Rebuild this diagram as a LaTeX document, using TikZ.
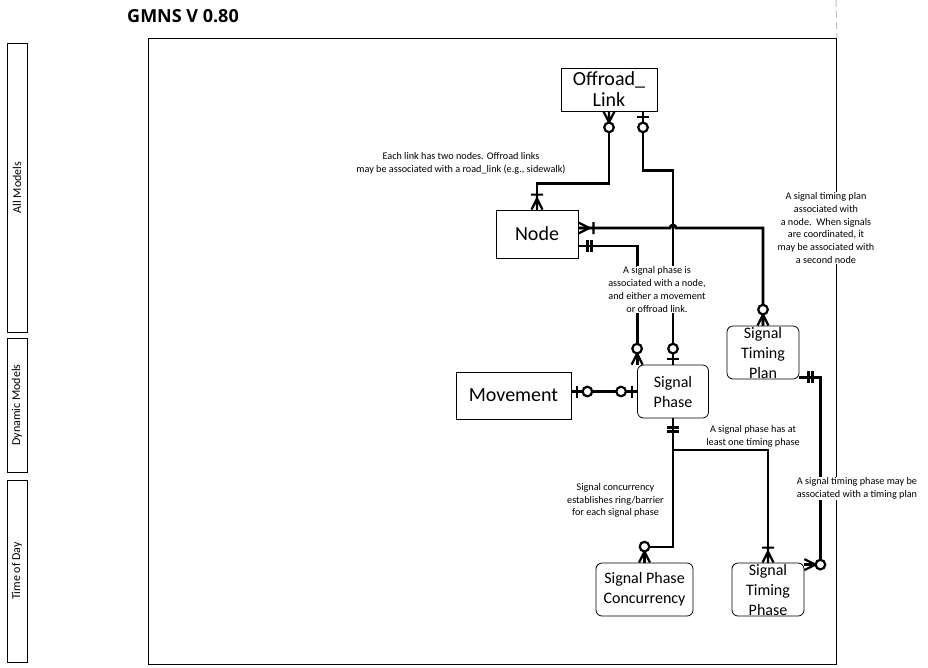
\documentclass[tikz,border=0pt]{standalone}
\usepackage{fontspec}
\setmainfont{Carlito}
\newfontfamily\titlefont{Open Sans}
\usetikzlibrary{positioning,calc}
\tikzset{
  entity/.style={draw,line width=0.8pt,inner sep=0pt,align=center,
    font=\fontsize{20}{21}\selectfont},
  tablebox/.style={draw,line width=0.8pt,rounded corners=6pt,inner sep=0pt,
    align=center,font=\fontsize{16}{20}\selectfont},
  note/.style={fill=white,inner sep=1pt,align=center,
    font=\fontsize{10.2}{12.7}\selectfont},
  lane/.style={draw,line width=0.8pt,rotate=90,minimum height=20pt,inner sep=0pt,
    font=\fontsize{12}{13}\selectfont},
  rel/.style={line width=2.8pt},
  endmark/.style={line width=2.2pt},
  zeromany/.pic={\draw[endmark] (0,-5.5) -- (11,0) -- (0,5.5) (0,0) -- (11,0);
    \draw[endmark,fill=white] (16,0) circle[radius=4.8];},
  onemany/.pic={\draw[endmark] (0,-5.5) -- (11,0) -- (0,5.5) (0,0) -- (15,0)
    (15,-6) -- (15,6);},
  zeroone/.pic={\draw[endmark] (5.5,-6) -- (5.5,6);
    \draw[endmark,fill=white] (16,0) circle[radius=4.8];},
  oneone/.pic={\draw[endmark] (9,-6) -- (9,6) (13,-6) -- (13,6);}
}
\begin{document}
\begin{tikzpicture}[x=1pt,y=-1pt]
  \useasboundingbox (0,0) rectangle (928,667);
  \node[font=\titlefont\bfseries\fontsize{18}{20}\selectfont] (title) at (183,16) {GMNS V 0.80};
  \node[draw,line width=1pt,minimum width=688pt,minimum height=626pt,anchor=north west] (frame) at (148,38) {};
  \draw[gray!50,line width=1pt,dash pattern=on 7pt off 4pt] (836,0) -- (frame.north east);

  \node[lane,minimum width=289pt] (allmodels) at (17,187.5) {All Models};
  \node[lane,minimum width=134pt] (dynamic) at (17,405) {Dynamic Models};
  \node[lane,minimum width=182pt] (timeofday) at (17,571) {Time of Day};

  \node[entity,minimum width=96pt,minimum height=43pt] (offroad) at (609,89.5) {Offroad\_\\Link};
  \node[entity,minimum width=82pt,minimum height=48pt] (node) at (537,234) {Node};
  \node[entity,minimum width=115pt,minimum height=47pt] (movement) at (513.5,395.5) {Movement};
  \node[tablebox,minimum width=71pt,minimum height=53pt] (phase) at (673,391.5) {Signal\\Phase};
  \node[tablebox,minimum width=72pt,minimum height=53pt] (plan) at (763,352.5) {Signal\\Timing\\Plan};
  \node[tablebox,minimum width=97pt,minimum height=53pt] (spc) at (644.5,589.5) {Signal Phase\\Concurrency};
  \node[tablebox,minimum width=72pt,minimum height=53pt] (stp) at (768,589.5) {Signal\\Timing\\Phase};

  \coordinate (jump) at (670,228);
  \coordinate (split) at (673,450);
  \draw[rel] (offroad.south) -- ++(0,72) -| (node.north);
  \draw[rel] ([xshift=34pt]offroad.south) -- ++(0,59) -| (phase.north);
  \draw[rel] ([yshift=6pt]node.east) -- (jump)
    arc[start angle=180,end angle=360,radius=3] -| (plan.north);
  \draw[rel] ([yshift=-12pt]node.east) -| (phase.north west);
  \draw[rel] (movement.east |- phase.west) -- (phase.west);
  \draw[rel] (phase.south) -- (split) -- ++(0,97) -| (spc.north);
  \draw[rel] (split) -| (stp.north);
  \draw[rel] ([yshift=2pt]plan.south east) -- ++(21,0) |- ([yshift=-2pt]stp.north east);

  \pic[rotate=-90] at (offroad.south) {zeromany};
  \pic[rotate=90] at (node.north) {onemany};
  \pic[rotate=-90] at ([xshift=34pt]offroad.south) {zeroone};
  \pic[rotate=90] at (phase.north) {zeroone};
  \pic at ([yshift=6pt]node.east) {onemany};
  \pic[rotate=90] at (plan.north) {zeromany};
  \pic at ([yshift=-12pt]node.east) {oneone};
  \pic[rotate=90] at (phase.north west) {zeromany};
  \pic at (movement.east |- phase.west) {zeroone};
  \pic[rotate=180] at (phase.west) {zeroone};
  \pic[rotate=-90] at (phase.south) {oneone};
  \pic[rotate=90] at (spc.north) {zeromany};
  \pic[rotate=90] at (stp.north) {onemany};
  \pic at ([yshift=2pt]plan.south east) {oneone};
  \pic at ([yshift=-2pt]stp.north east) {zeromany};

  \node[note] (linknote) at (461,163.5) {Each link has two nodes. Offroad links\\may be associated with a road\_link (e.g., sidewalk)};
  \node[note] (phasenote) at (657,289.5) {A signal phase is\\associated with a node,\\and either a movement\\or offroad link.};
  \node[note] (plannote) at (826,228) {A signal timing plan\\associated with\\a node.\ \ When signals\\are coordinated, it\\may be associated with\\a second node};
  \node[note] (timingnote) at (753,436) {A signal phase has at\\least one timing phase};
  \node[note] (concnote) at (615.5,500.5) {Signal concurrency\\establishes ring/barrier\\for each signal phase};
  \node[note] (stpnote) at (857,488.5) {A signal timing phase may be\\associated with a timing plan};
\end{tikzpicture}
\end{document}
